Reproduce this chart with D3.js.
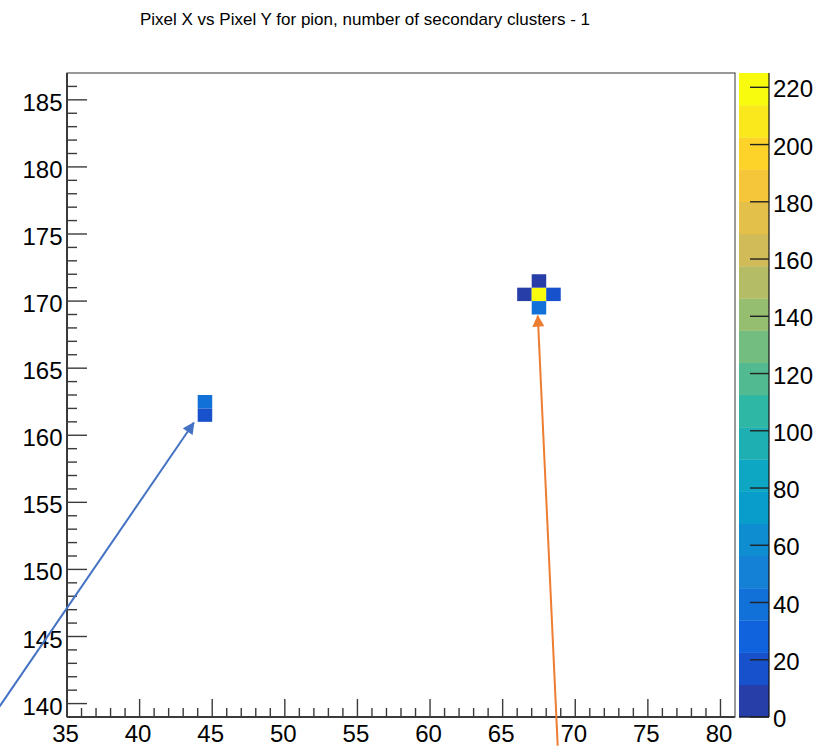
<!DOCTYPE html>
<html>
<head>
<meta charset="utf-8">
<script src="https://cdn.jsdelivr.net/npm/d3@7"></script>
<style>
  html, body { margin: 0; padding: 0; background: #fff; }
  svg { display: block; }
  text { font-family: "Liberation Sans", Arial, sans-serif; fill: #000; }
</style>
</head>
<body>
<svg id="chart" width="820" height="746"></svg>
<script>
// Filled bins of the 2D histogram: pixel column, pixel row, counts
const binX = [66, 67, 68, 67, 67, 44, 44];
const binY = [170, 170, 170, 171, 169, 162, 161];
const binCount = [8, 225, 17, 9, 38, 40, 22];

// Axis ranges and tick labels
const xRange = [35, 81];
const yRange = [139, 187];
const xTickLabels = [35, 40, 45, 50, 55, 60, 65, 70, 75, 80];
const yTickLabels = [140, 145, 150, 155, 160, 165, 170, 175, 180, 185];
const zTickLabels = [0, 20, 40, 60, 80, 100, 120, 140, 160, 180, 200, 220];
const nContours = 20;

// Annotation arrows (data coordinates: from -> to)
const arrowFrom = [[30.36, 139.79], [68.79, 136.86]];
const arrowTo = [[43.73, 160.93], [67.42, 168.9]];
const arrowColors = ["#4472c4", "#ed7d31"];

const title = "Pixel X vs Pixel Y for pion, number of secondary clusters - 1";

// "Bird" palette stops
const stops = [0.0, 0.125, 0.25, 0.375, 0.5, 0.625, 0.75, 0.875, 1.0];
const red   = [0.2082, 0.0592, 0.0780, 0.0232, 0.1802, 0.5301, 0.8186, 0.9956, 0.9764];
const green = [0.1664, 0.3599, 0.5041, 0.6419, 0.7178, 0.7492, 0.7328, 0.7862, 0.9832];
const blue  = [0.5293, 0.8684, 0.8385, 0.7914, 0.6425, 0.4662, 0.3499, 0.1968, 0.0539];

const svg = d3.select("#chart");
const frame = { left: 67, right: 735, top: 73, bottom: 717 };
const bar = { left: 739, right: 769 };

const x = d3.scaleLinear().domain(xRange).range([frame.left, frame.right]);
const y = d3.scaleLinear().domain(yRange).range([frame.bottom, frame.top]);
const zMax = d3.max(binCount);
const z = d3.scaleLinear().domain([0, zMax]).range([frame.bottom, frame.top]);

const rScale = d3.scaleLinear().domain(stops).range(red);
const gScale = d3.scaleLinear().domain(stops).range(green);
const bScale = d3.scaleLinear().domain(stops).range(blue);
const nColors = 255;
function bandColor(i) {
  const idx = Math.min(nColors - 1, Math.floor((i + 0.99) * nColors / nContours));
  const t = idx / (nColors - 1);
  return d3.rgb(rScale(t) * 255, gScale(t) * 255, bScale(t) * 255).formatHex();
}
function countColor(v) {
  const i = Math.min(nContours - 1, Math.floor(0.01 + v * nContours / zMax));
  return bandColor(i);
}

// Title
svg.append("text")
  .attr("x", 365).attr("y", 25)
  .attr("text-anchor", "middle")
  .style("font-size", "17px")
  .text(title);

// Bins
svg.append("g").selectAll("rect")
  .data(binX.map((bx, i) => ({ bx, by: binY[i], c: binCount[i] })))
  .join("rect")
  .attr("x", d => x(d.bx))
  .attr("y", d => y(d.by + 1))
  .attr("width", d => x(d.bx + 1) - x(d.bx))
  .attr("height", d => y(d.by) - y(d.by + 1))
  .attr("fill", d => countColor(d.c));

// Frame
svg.append("rect")
  .attr("x", frame.left).attr("y", frame.top)
  .attr("width", frame.right - frame.left)
  .attr("height", frame.bottom - frame.top)
  .attr("fill", "none").attr("stroke", "#555").attr("stroke-width", 1.2);

const tickColor = "#3a3a3a";
// X axis ticks
const xMinor = d3.range(Math.ceil(xRange[0]) + 1, xRange[1]).filter(v => !xTickLabels.includes(v));
const gx = svg.append("g");
gx.selectAll("line.minor").data(xMinor).join("line")
  .attr("x1", d => x(d)).attr("x2", d => x(d))
  .attr("y1", frame.bottom).attr("y2", frame.bottom - 9)
  .attr("stroke", tickColor).attr("stroke-width", 1.4);
gx.selectAll("line.major").data(xTickLabels).join("line")
  .attr("x1", d => x(d)).attr("x2", d => x(d))
  .attr("y1", frame.bottom).attr("y2", frame.bottom - 18)
  .attr("stroke", tickColor).attr("stroke-width", 1.4);
gx.selectAll("text").data(xTickLabels).join("text")
  .attr("x", d => x(d) - 1.5).attr("y", 742)
  .attr("text-anchor", "middle")
  .style("font-size", "24px")
  .text(d => d);

// Y axis ticks
const yMinor = d3.range(yRange[0] + 1, yRange[1]).filter(v => !yTickLabels.includes(v));
const gy = svg.append("g");
gy.selectAll("line.minor").data(yMinor).join("line")
  .attr("y1", d => y(d)).attr("y2", d => y(d))
  .attr("x1", frame.left).attr("x2", frame.left + 10)
  .attr("stroke", tickColor).attr("stroke-width", 1.4);
gy.selectAll("line.major").data(yTickLabels).join("line")
  .attr("y1", d => y(d)).attr("y2", d => y(d))
  .attr("x1", frame.left).attr("x2", frame.left + 20)
  .attr("stroke", tickColor).attr("stroke-width", 1.4);
gy.selectAll("text").data(yTickLabels).join("text")
  .attr("x", 62.5).attr("y", d => y(d) + 11)
  .attr("text-anchor", "end")
  .style("font-size", "24px")
  .text(d => d);
// Axis lines
svg.append("line").attr("x1", frame.left).attr("x2", frame.right)
  .attr("y1", frame.bottom).attr("y2", frame.bottom)
  .attr("stroke", tickColor).attr("stroke-width", 2);
svg.append("line").attr("x1", frame.left).attr("x2", frame.left)
  .attr("y1", frame.top).attr("y2", frame.bottom)
  .attr("stroke", tickColor).attr("stroke-width", 2);

// Colour scale bar
const bandW = zMax / nContours;
const gz = svg.append("g");
gz.selectAll("rect").data(d3.range(nContours)).join("rect")
  .attr("x", bar.left)
  .attr("y", i => z((i + 1) * bandW))
  .attr("width", bar.right - bar.left)
  .attr("height", i => z(i * bandW) - z((i + 1) * bandW) + 0.3)
  .attr("fill", i => bandColor(i));
gz.append("line").attr("x1", bar.right).attr("x2", bar.right)
  .attr("y1", frame.top).attr("y2", frame.bottom)
  .attr("stroke", "#111").attr("stroke-width", 1.2);
gz.append("line").attr("x1", bar.left).attr("x2", bar.right)
  .attr("y1", frame.bottom).attr("y2", frame.bottom)
  .attr("stroke", "#111").attr("stroke-width", 1.2);
gz.selectAll("line.tick").data(zTickLabels).join("line")
  .attr("x1", bar.right).attr("x2", bar.right - 19)
  .attr("y1", d => z(d)).attr("y2", d => z(d))
  .attr("stroke", "#222").attr("stroke-width", 1.4);
gz.selectAll("text").data(zTickLabels).join("text")
  .attr("x", 773).attr("y", d => z(d) + 10)
  .style("font-size", "24px")
  .text(d => d);

// Annotation arrows
const defs = svg.append("defs");
arrowColors.forEach((c, i) => {
  defs.append("marker")
    .attr("id", "arrow" + i)
    .attr("viewBox", "0 0 10 10")
    .attr("refX", 9).attr("refY", 5)
    .attr("markerUnits", "userSpaceOnUse")
    .attr("markerWidth", 13).attr("markerHeight", 12)
    .attr("orient", "auto")
    .append("path").attr("d", "M0,0L10,5L0,10Z").attr("fill", c);
});
svg.append("g").selectAll("line").data(arrowFrom.map((f, i) => ({ f, t: arrowTo[i], c: arrowColors[i], i })))
  .join("line")
  .attr("x1", d => x(d.f[0])).attr("y1", d => y(d.f[1]))
  .attr("x2", d => x(d.t[0])).attr("y2", d => y(d.t[1]))
  .attr("stroke", d => d.c).attr("stroke-width", 2)
  .attr("marker-end", d => `url(#arrow${d.i})`);
</script>
</body>
</html>
